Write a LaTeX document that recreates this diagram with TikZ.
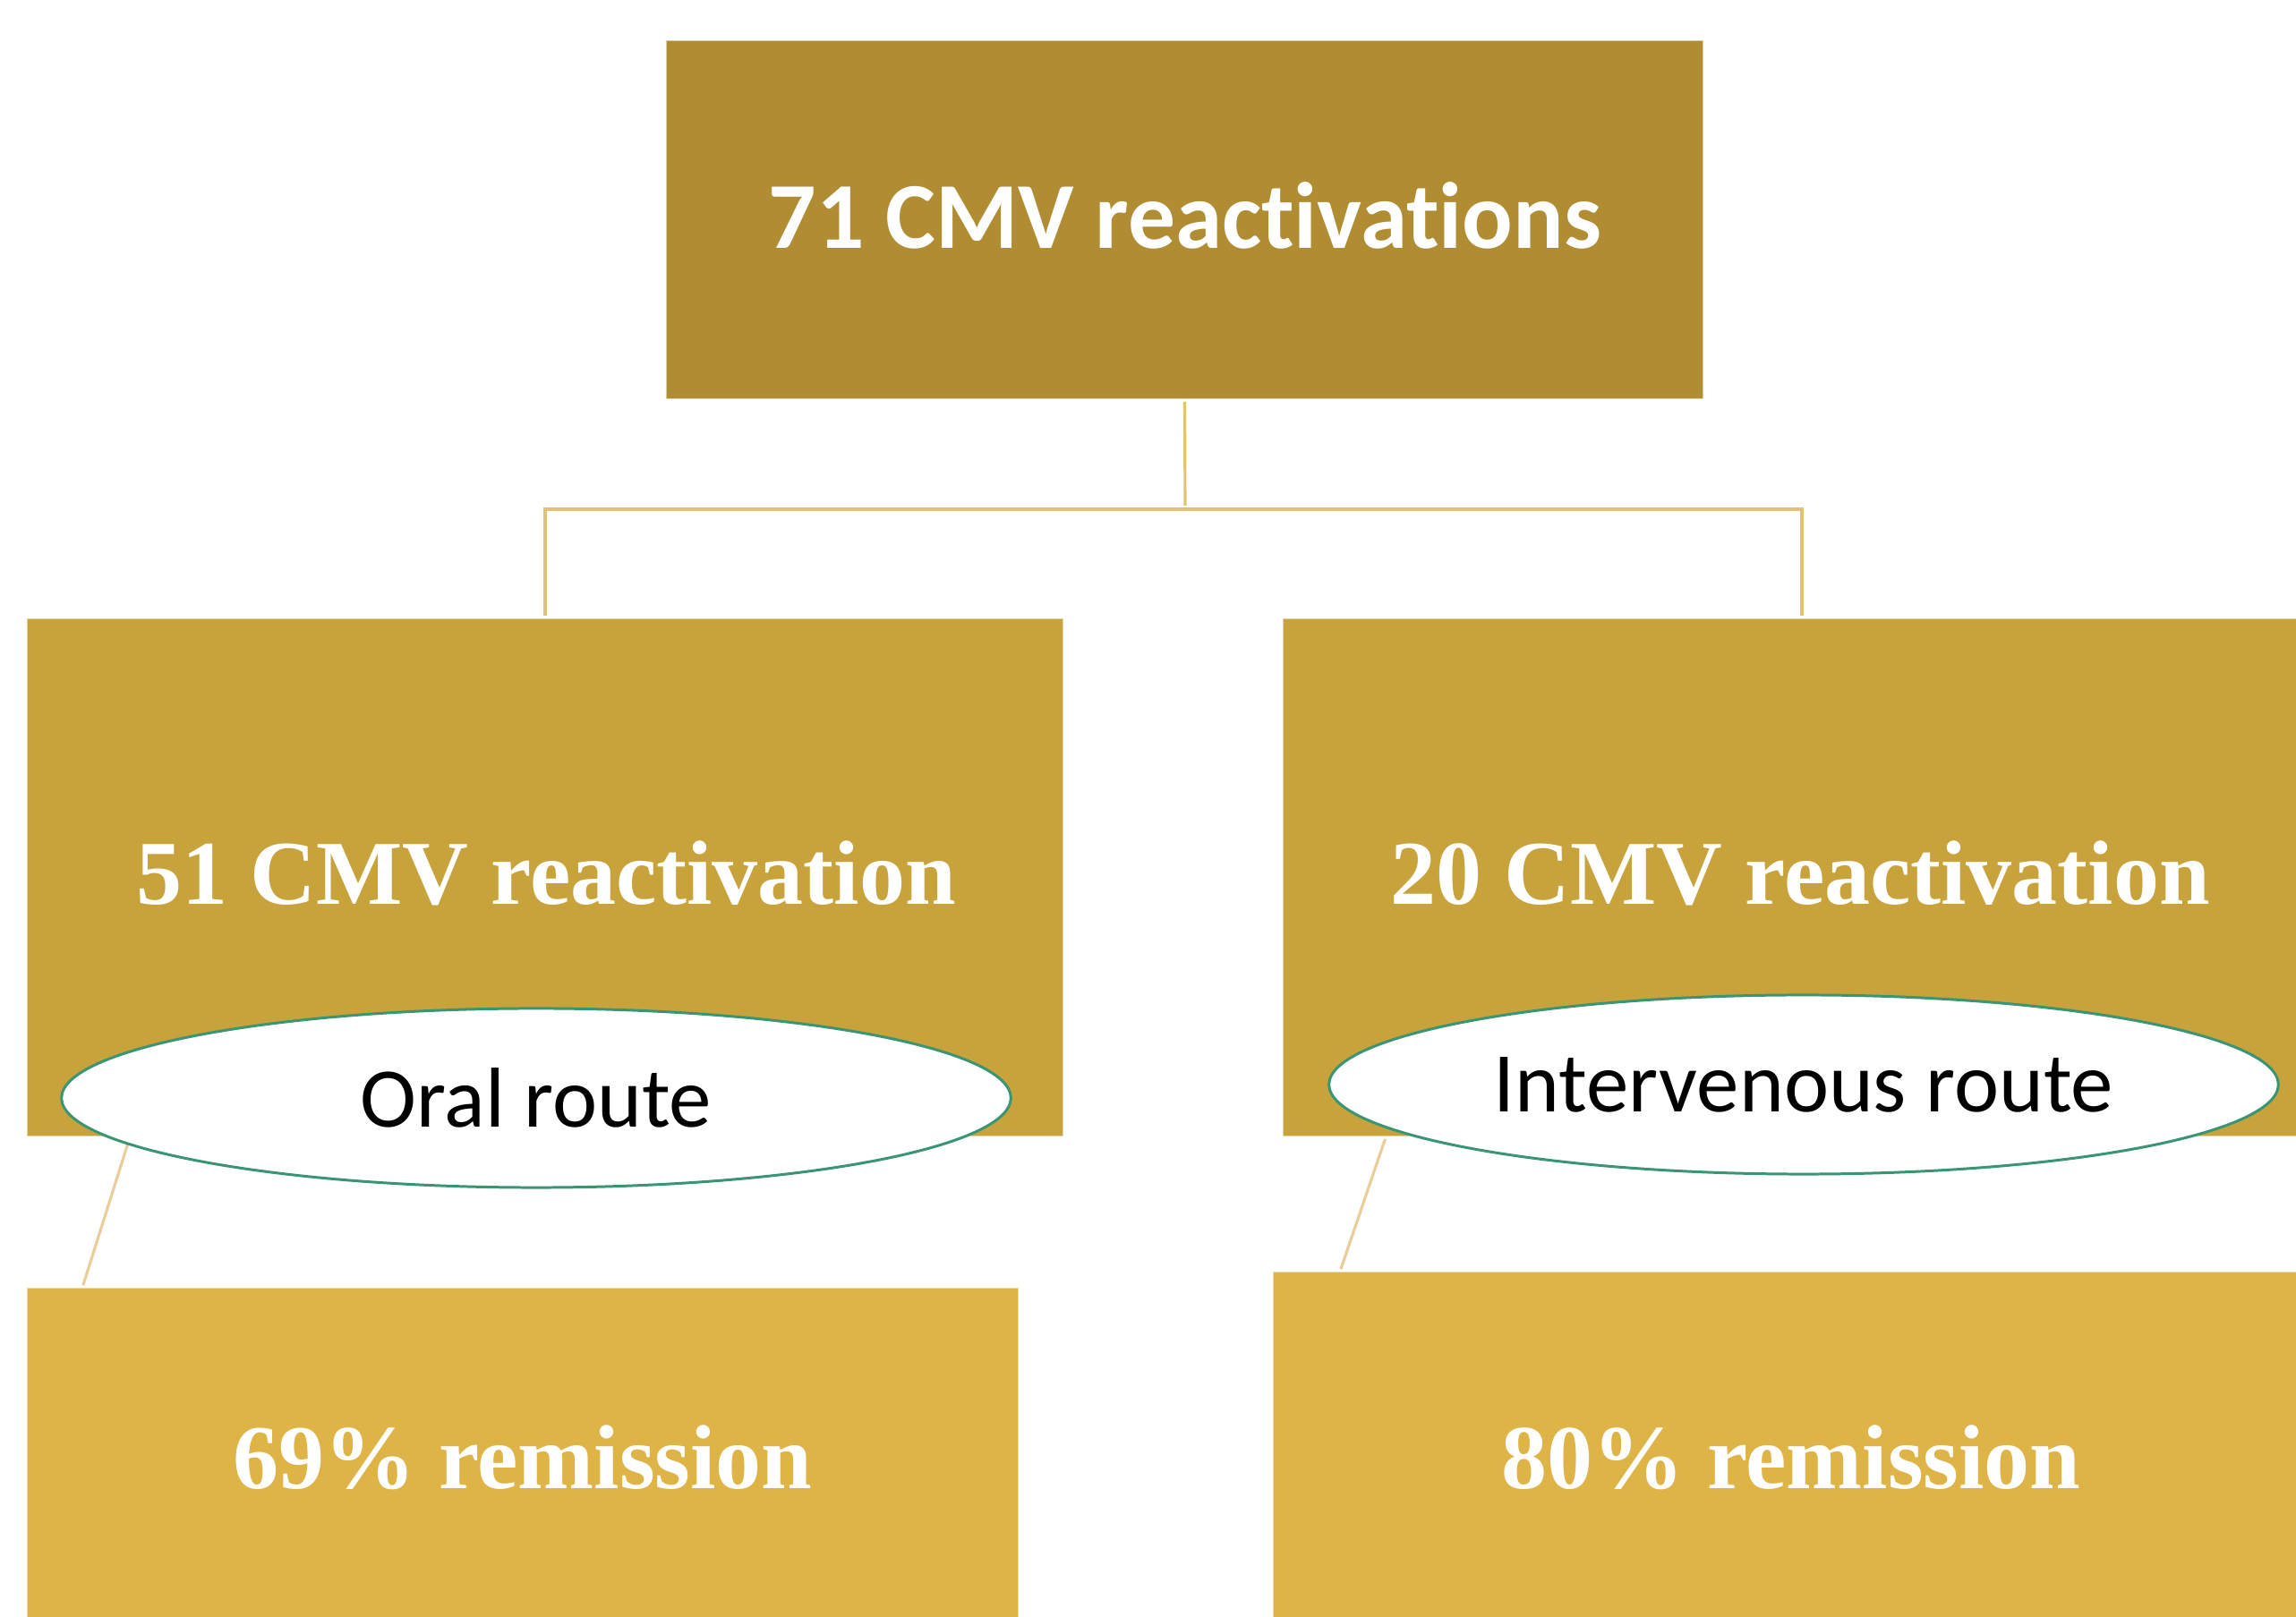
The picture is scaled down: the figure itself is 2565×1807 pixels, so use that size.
\documentclass[tikz,border=0pt]{standalone}
\usepackage{fontspec}
\setmainfont{Liberation Serif}
\newfontfamily\calibrifont[Ligatures=NoCommon]{Carlito}
\usetikzlibrary{shapes.geometric,calc}

\definecolor{topgold}{HTML}{B08D33}
\definecolor{midgold}{HTML}{C8A33B}
\definecolor{lowgold}{HTML}{DEB447}
\definecolor{linkgold}{HTML}{E3C273}
\definecolor{diaggold}{HTML}{EACD9B}
\definecolor{routegreen}{HTML}{3A9573}

\tikzset{
  goldbox/.style={rectangle, inner sep=0pt, outer sep=0pt, draw=#1!45!white, line width=0.3pt, fill=#1},
  link/.style={draw=linkgold, line width=0.9pt, shorten <=1.1pt, shorten >=1.1pt},
  diaglink/.style={draw=diaggold, line width=0.9pt, shorten <=1.1pt, shorten >=1.1pt},
  route/.style={ellipse, draw=routegreen, line width=0.85pt, fill=white, inner sep=0pt,
    minimum width=10.6cm, minimum height=2cm, font=\calibrifont\fontsize{27}{32}\selectfont},
  boxtext/.style={anchor=base, text=white, font=\bfseries\fontsize{29}{34}\selectfont}
}

\begin{document}
\begin{tikzpicture}[x=0.01cm, y=-0.01cm]
  \clip (0,0) rectangle (2565,1807);

  %% top box
  \node[goldbox=topgold, minimum width=11.57cm, minimum height=3.99cm] (total) at (1323.5,245.5) {};
  \node[anchor=base, text=white, font=\calibrifont\bfseries\fontsize{30}{36}\selectfont] (totaltext) at (1324,278) {71 CMV reactivations};

  %% middle boxes
  \node[goldbox=midgold, minimum width=11.56cm, minimum height=5.77cm] (oralbox) at (609,980.5) {};
  \node[goldbox=midgold, minimum width=11.58cm, minimum height=5.77cm] (ivbox) at (2013,980.5) {};
  \node[boxtext] (oraltext) at (610,1011) {51 CMV reactivation};
  \node[boxtext] (ivtext) at (2011,1011) {20 CMV reactivation};

  %% bottom boxes
  \node[goldbox=lowgold, minimum width=11.06cm, minimum height=4.10cm] (oralres) at (584,1645) {};
  \node[goldbox=lowgold, minimum width=11.77cm, minimum height=4.28cm] (ivres) at (2011.5,1636) {};
  \node[boxtext] (oralrestext) at (584,1664) {69\% remission};
  \node[boxtext] (ivrestext) at (2001,1664) {80\% remission};

  %% connectors
  \coordinate (split) at (1324,569);
  \draw[link] (total.south) -- (split);
  \draw[link] (oralbox.north) |- (split) -| (ivbox.north);
  \draw[diaglink] ($(oralbox.south west)+(115,0)$) -- ($(oralres.north west)+(61,0)$);
  \draw[diaglink] ($(ivbox.south west)+(115,0)$) -- ($(ivres.north west)+(74,0)$);

  %% routes
  \node[route] (oral) at (599,1227) {Oral route};
  \node[route] (iv) at (2015,1212) {Intervenous route};

\end{tikzpicture}
\end{document}
